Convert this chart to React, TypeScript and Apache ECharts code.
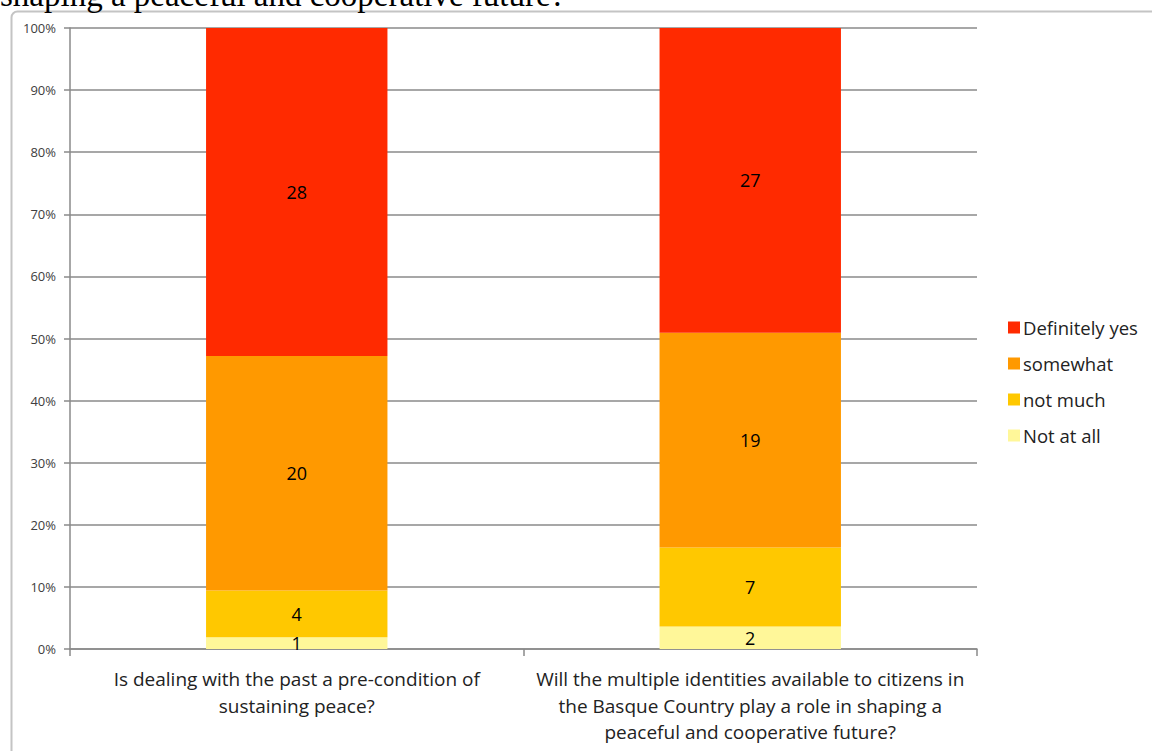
import React, { useEffect, useRef } from "react";
import * as echarts from "echarts";

const categories = [
  "Is dealing with the past a pre-condition of\nsustaining peace?",
  "Will the multiple identities available to citizens in\nthe Basque Country play a role in shaping a\npeaceful and cooperative future?",
];
const seriesNames = ["Not at all", "not much", "somewhat", "Definitely yes"];
const notAtAll = [1, 2];
const notMuch = [4, 7];
const somewhat = [20, 19];
const definitelyYes = [28, 27];
const seriesColors = ["#FFF799", "#FFC800", "#FF9900", "#FF2A00"];
const yTicks = { min: 0, max: 100, interval: 10 };
const headerText = "shaping a peaceful and cooperative future?";

export default function App() {
  const ref = useRef<HTMLDivElement>(null);
  useEffect(() => {
    if (!ref.current) return;
    const chart = echarts.init(ref.current, null, { renderer: "svg" });
    const counts = [notAtAll, notMuch, somewhat, definitelyYes];
    const totals = categories.map((_, i) => counts.reduce((s, arr) => s + arr[i], 0));
    const font = "'Open Sans', 'Noto Sans', sans-serif";
    const series = counts.map((arr, si) => ({
      name: seriesNames[si],
      type: "bar",
      stack: "total",
      barWidth: "40%",
      itemStyle: { color: seriesColors[si] },
      label: {
        show: true,
        position: "inside",
        color: "#000",
        fontSize: 18,
        fontFamily: font,
        formatter: (p: any) => String(arr[p.dataIndex]),
      },
      data: arr.map((v, i) => (v / totals[i]) * 100),
    }));
    chart.setOption({
      animation: false,
      backgroundColor: "#fff",
      graphic: [
        {
          type: "rect",
          shape: { x: 11.5, y: 11.5, width: 1160, height: 760, r: 6 },
          style: { fill: "none", stroke: "#c4c4c4", lineWidth: 2 },
          z: -10,
        },
        {
          type: "text",
          left: 0,
          top: -22,
          style: {
            text: headerText,
            font: "33px 'Liberation Serif', 'DejaVu Serif', serif",
            fill: "#000",
          },
        },
      ],
      legend: {
        orient: "vertical",
        left: 1003,
        top: 313,
        itemWidth: 12,
        itemHeight: 12,
        itemGap: 17,
        icon: "rect",
        data: [...seriesNames].reverse(),
        textStyle: {
          fontSize: 18.5,
          color: "#222",
          fontFamily: font,
          padding: [0, 0, 0, -2],
        },
      },
      grid: { left: 70, right: 175, top: 28, bottom: 102, containLabel: false },
      xAxis: {
        type: "category",
        data: categories,
        axisLine: { lineStyle: { color: "#8a8a8a", width: 1.5 } },
        axisTick: { show: true, length: 7, lineStyle: { color: "#8a8a8a", width: 1.5 } },
        axisLabel: {
          color: "#222",
          fontSize: 19,
          fontFamily: font,
          lineHeight: 26.5,
          margin: 17,
          interval: 0,
          align: "center",
        },
      },
      yAxis: {
        type: "value",
        min: yTicks.min,
        max: yTicks.max,
        interval: yTicks.interval,
        axisLine: { show: true, lineStyle: { color: "#8a8a8a", width: 1.5 } },
        axisTick: { show: true, length: 6, lineStyle: { color: "#8a8a8a", width: 1.5 } },
        splitLine: { lineStyle: { color: "#8a8a8a", width: 1.5 } },
        axisLabel: {
          formatter: "{value}%",
          color: "#404040",
          fontSize: 13,
          fontFamily: font,
          margin: 14,
        },
      },
      series,
    });
    return () => chart.dispose();
  }, []);
  return (
    <div
      ref={ref}
      style={{ position: "absolute", left: 0, top: 0, width: 1152, height: 751 }}
    />
  );
}
